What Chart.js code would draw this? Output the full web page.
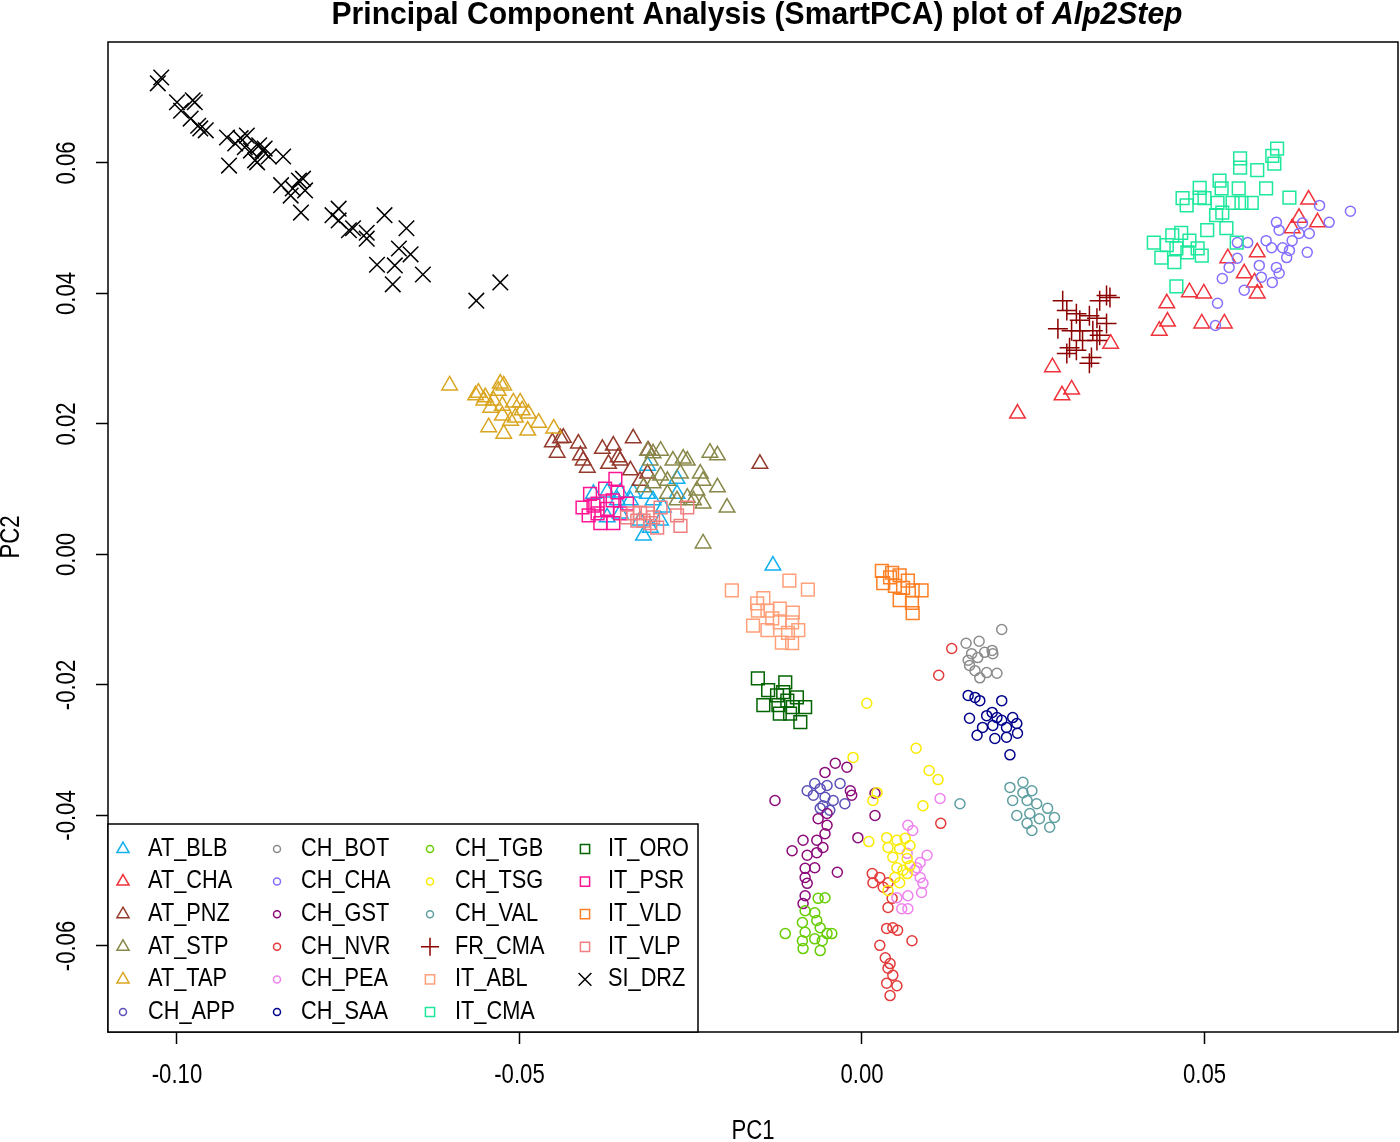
<!DOCTYPE html>
<html><head><meta charset="utf-8">
<script src="https://cdn.jsdelivr.net/npm/chart.js@4.4.0/dist/chart.umd.min.js"></script>
<style>html,body{margin:0;padding:0;background:#fff;overflow:hidden}#wrap{width:1400px;height:1142px;position:relative}</style>
</head><body><div id="wrap"><canvas id="c" width="1400" height="1142"></canvas></div>
<script>
// ---------- DATA (PC1, PC2) ----------
const AT_BLB = [[-0.0313,0.0136],[-0.0270,0.0116],[-0.0392,0.0093],[-0.0372,0.0095],[-0.0353,0.0095],[-0.0334,0.0095],[-0.0313,0.0093],[-0.0357,0.0083],[-0.0338,0.0083],[-0.0305,0.0083],[-0.0290,0.0072],[-0.0270,0.0093],[-0.0372,0.0057],[-0.0353,0.0063],[-0.0324,0.0052],[-0.0294,0.0052],[-0.0319,0.0029],[-0.0309,0.0041],[-0.0130,-0.0017]];
const AT_CHA = [[0.0652,0.0544],[0.0638,0.0516],[0.0665,0.0509],[0.0628,0.0500],[0.0577,0.0463],[0.0534,0.0454],[0.0558,0.0431],[0.0573,0.0417],[0.0577,0.0400],[0.0478,0.0402],[0.0499,0.0400],[0.0445,0.0385],[0.0446,0.0357],[0.0434,0.0343],[0.0496,0.0354],[0.0529,0.0354],[0.0363,0.0323],[0.0278,0.0287],[0.0292,0.0244],[0.0306,0.0253],[0.0227,0.0216]];
const AT_PNZ = [[-0.0452,0.0172],[-0.0440,0.0178],[-0.0436,0.0179],[-0.0445,0.0156],[-0.0414,0.0170],[-0.0411,0.0152],[-0.0407,0.0144],[-0.0401,0.0133],[-0.0379,0.0162],[-0.0363,0.0167],[-0.0356,0.0149],[-0.0353,0.0144],[-0.0370,0.0139],[-0.0334,0.0178],[-0.0338,0.0129],[-0.0313,0.0124],[-0.0324,0.0113],[-0.0149,0.0139],[-0.0312,0.0159]];
const AT_STP = [[-0.0313,0.0159],[-0.0305,0.0155],[-0.0294,0.0159],[-0.0309,0.0144],[-0.0276,0.0144],[-0.0261,0.0147],[-0.0255,0.0144],[-0.0222,0.0156],[-0.0211,0.0152],[-0.0294,0.0121],[-0.0284,0.0113],[-0.0265,0.0124],[-0.0236,0.0124],[-0.0232,0.0113],[-0.0211,0.0103],[-0.0197,0.0072],[-0.0241,0.0098],[-0.0255,0.0087],[-0.0270,0.0083],[-0.0246,0.0083],[-0.0232,0.0078],[-0.0232,0.0017],[-0.0305,0.0109],[-0.0284,0.0093],[-0.0319,0.0103]];
const AT_TAP = [[-0.0602,0.0259],[-0.0564,0.0244],[-0.0560,0.0248],[-0.0550,0.0241],[-0.0528,0.0262],[-0.0523,0.0259],[-0.0531,0.0251],[-0.0538,0.0236],[-0.0542,0.0225],[-0.0525,0.0228],[-0.0509,0.0233],[-0.0499,0.0233],[-0.0525,0.0213],[-0.0506,0.0210],[-0.0496,0.0221],[-0.0487,0.0216],[-0.0545,0.0195],[-0.0523,0.0185],[-0.0488,0.0190],[-0.0472,0.0202],[-0.0450,0.0193],[-0.0513,0.0205],[-0.0552,0.0236]];
const CH_APP = [[-0.0080,-0.0362],[-0.0069,-0.0351],[-0.0061,-0.0359],[-0.0071,-0.0369],[-0.0054,-0.0372],[-0.0051,-0.0354],[-0.0032,-0.0351],[-0.0025,-0.0382],[-0.0057,-0.0385],[-0.0042,-0.0377],[-0.0061,-0.0389],[-0.0047,-0.0392]];
const CH_BOT = [[0.0204,-0.0115],[0.0152,-0.0136],[0.0171,-0.0133],[0.0160,-0.0152],[0.0155,-0.0162],[0.0169,-0.0158],[0.0179,-0.0150],[0.0190,-0.0147],[0.0191,-0.0152],[0.0165,-0.0178],[0.0182,-0.0181],[0.0197,-0.0182],[0.0172,-0.0189],[0.0157,-0.0170]];
const CH_CHA = [[0.0713,0.0526],[0.0668,0.0535],[0.0682,0.0509],[0.0605,0.0509],[0.0609,0.0497],[0.0590,0.0481],[0.0598,0.0470],[0.0614,0.0470],[0.0628,0.0481],[0.0638,0.0492],[0.0653,0.0492],[0.0650,0.0463],[0.0620,0.0455],[0.0605,0.0440],[0.0609,0.0431],[0.0599,0.0417],[0.0580,0.0443],[0.0563,0.0478],[0.0548,0.0478],[0.0548,0.0454],[0.0536,0.0440],[0.0526,0.0423],[0.0558,0.0405],[0.0583,0.0425],[0.0519,0.0385],[0.0516,0.0351],[0.0643,0.0508],[0.0624,0.0466]];
const CH_GST = [[-0.0127,-0.0377],[-0.0039,-0.0320],[-0.0022,-0.0326],[-0.0054,-0.0334],[-0.0017,-0.0362],[-0.0015,-0.0369],[0.0019,-0.0366],[0.0019,-0.0400],[-0.0006,-0.0434],[-0.0036,-0.0487],[-0.0064,-0.0405],[-0.0051,-0.0415],[-0.0054,-0.0428],[-0.0066,-0.0438],[-0.0086,-0.0438],[-0.0057,-0.0449],[-0.0102,-0.0454],[-0.0080,-0.0461],[-0.0066,-0.0457],[-0.0083,-0.0481],[-0.0069,-0.0480],[-0.0083,-0.0495],[-0.0080,-0.0504],[-0.0083,-0.0523],[-0.0086,-0.0535],[-0.0051,-0.0397]];
const CH_NVR = [[0.0115,-0.0412],[0.0015,-0.0489],[0.0026,-0.0495],[0.0016,-0.0503],[0.0031,-0.0510],[0.0038,-0.0503],[0.0044,-0.0527],[0.0038,-0.0541],[0.0036,-0.0573],[0.0045,-0.0572],[0.0052,-0.0576],[0.0073,-0.0592],[0.0026,-0.0599],[0.0034,-0.0618],[0.0041,-0.0627],[0.0038,-0.0634],[0.0045,-0.0645],[0.0051,-0.0661],[0.0041,-0.0676],[0.0036,-0.0657],[0.0131,-0.0144],[0.0112,-0.0185]];
const CH_PEA = [[0.0114,-0.0374],[0.0067,-0.0415],[0.0074,-0.0423],[0.0095,-0.0461],[0.0085,-0.0472],[0.0077,-0.0484],[0.0089,-0.0504],[0.0087,-0.0518],[0.0067,-0.0523],[0.0058,-0.0543],[0.0067,-0.0543],[0.0051,-0.0526],[0.0080,-0.0480],[0.0066,-0.0458],[0.0085,-0.0495]];
const CH_SAA = [[0.0155,-0.0216],[0.0165,-0.0219],[0.0172,-0.0224],[0.0204,-0.0224],[0.0157,-0.0251],[0.0182,-0.0247],[0.0190,-0.0242],[0.0197,-0.0250],[0.0204,-0.0254],[0.0220,-0.0250],[0.0176,-0.0265],[0.0191,-0.0262],[0.0211,-0.0265],[0.0226,-0.0259],[0.0168,-0.0277],[0.0194,-0.0282],[0.0211,-0.0280],[0.0227,-0.0274],[0.0216,-0.0307]];
const CH_TGB = [[-0.0112,-0.0581],[-0.0054,-0.0526],[-0.0064,-0.0527],[-0.0083,-0.0546],[-0.0069,-0.0549],[-0.0087,-0.0564],[-0.0066,-0.0561],[-0.0061,-0.0572],[-0.0083,-0.0579],[-0.0051,-0.0581],[-0.0044,-0.0581],[-0.0087,-0.0592],[-0.0069,-0.0589],[-0.0058,-0.0592],[-0.0086,-0.0604],[-0.0061,-0.0607]];
const CH_TSG = [[0.0007,-0.0228],[0.0079,-0.0297],[0.0098,-0.0331],[0.0111,-0.0345],[0.0089,-0.0385],[-0.0013,-0.0311],[0.0016,-0.0377],[0.0022,-0.0365],[0.0010,-0.0440],[0.0036,-0.0434],[0.0051,-0.0438],[0.0063,-0.0435],[0.0038,-0.0449],[0.0055,-0.0451],[0.0070,-0.0446],[0.0045,-0.0464],[0.0066,-0.0466],[0.0051,-0.0480],[0.0060,-0.0484],[0.0070,-0.0477],[0.0048,-0.0495],[0.0055,-0.0503],[0.0038,-0.0515],[0.0066,-0.0489]];
const CH_VAL = [[0.0143,-0.0382],[0.0216,-0.0357],[0.0235,-0.0349],[0.0248,-0.0362],[0.0220,-0.0377],[0.0241,-0.0377],[0.0255,-0.0382],[0.0271,-0.0389],[0.0226,-0.0400],[0.0245,-0.0397],[0.0259,-0.0405],[0.0281,-0.0403],[0.0241,-0.0412],[0.0274,-0.0418],[0.0248,-0.0423],[0.0235,-0.0365]];
const FR_CMA = [[0.0293,0.0389],[0.0299,0.0374],[0.0313,0.0369],[0.0318,0.0359],[0.0332,0.0366],[0.0343,0.0362],[0.0347,0.0389],[0.0357,0.0397],[0.0362,0.0394],[0.0286,0.0346],[0.0306,0.0343],[0.0318,0.0343],[0.0337,0.0343],[0.0347,0.0336],[0.0322,0.0328],[0.0343,0.0328],[0.0303,0.0317],[0.0313,0.0313],[0.0299,0.0308],[0.0335,0.0302],[0.0332,0.0293],[0.0357,0.0354]];
const IT_ABL = [[-0.0190,-0.0055],[-0.0106,-0.0040],[-0.0079,-0.0054],[-0.0144,-0.0067],[-0.0153,-0.0075],[-0.0152,-0.0086],[-0.0138,-0.0086],[-0.0120,-0.0083],[-0.0101,-0.0089],[-0.0159,-0.0109],[-0.0138,-0.0116],[-0.0120,-0.0104],[-0.0102,-0.0104],[-0.0108,-0.0120],[-0.0093,-0.0116],[-0.0117,-0.0135],[-0.0102,-0.0136],[-0.0131,-0.0098]];
const IT_CMA = [[0.0606,0.0622],[0.0599,0.0611],[0.0602,0.0599],[0.0552,0.0607],[0.0552,0.0593],[0.0577,0.0589],[0.0522,0.0573],[0.0525,0.0561],[0.0493,0.0562],[0.0550,0.0561],[0.0590,0.0561],[0.0468,0.0546],[0.0474,0.0535],[0.0493,0.0547],[0.0500,0.0546],[0.0519,0.0539],[0.0541,0.0539],[0.0554,0.0539],[0.0569,0.0539],[0.0624,0.0547],[0.0517,0.0520],[0.0526,0.0524],[0.0504,0.0497],[0.0532,0.0500],[0.0547,0.0478],[0.0426,0.0478],[0.0445,0.0474],[0.0453,0.0489],[0.0466,0.0493],[0.0478,0.0481],[0.0459,0.0469],[0.0490,0.0469],[0.0496,0.0458],[0.0437,0.0455],[0.0456,0.0448],[0.0475,0.0463],[0.0459,0.0411]];
const IT_ORO = [[-0.0152,-0.0190],[-0.0137,-0.0208],[-0.0112,-0.0196],[-0.0124,-0.0216],[-0.0144,-0.0231],[-0.0122,-0.0231],[-0.0109,-0.0224],[-0.0095,-0.0219],[-0.0101,-0.0234],[-0.0083,-0.0234],[-0.0120,-0.0244],[-0.0105,-0.0244],[-0.0090,-0.0257],[-0.0115,-0.0211]];
const IT_PSR = [[-0.0408,0.0072],[-0.0386,0.0078],[-0.0399,0.0060],[-0.0382,0.0048],[-0.0360,0.0116],[-0.0375,0.0101],[-0.0357,0.0095],[-0.0364,0.0083],[-0.0372,0.0070],[-0.0363,0.0048],[-0.0392,0.0075],[-0.0343,0.0078],[-0.0353,0.0063],[-0.0397,0.0093],[-0.0386,0.0063]];
const IT_VLD = [[0.0029,-0.0025],[0.0044,-0.0028],[0.0055,-0.0032],[0.0067,-0.0040],[0.0031,-0.0044],[0.0048,-0.0048],[0.0060,-0.0051],[0.0074,-0.0055],[0.0087,-0.0055],[0.0055,-0.0070],[0.0073,-0.0074],[0.0074,-0.0090],[0.0041,-0.0035]];
const IT_VLP = [[-0.0334,0.0063],[-0.0324,0.0064],[-0.0313,0.0063],[-0.0328,0.0052],[-0.0319,0.0052],[-0.0309,0.0048],[-0.0305,0.0057],[-0.0294,0.0072],[-0.0270,0.0060],[-0.0265,0.0044],[-0.0255,0.0072],[-0.0343,0.0057],[-0.0299,0.0041]];
const SI_DRZ = [[-0.1028,0.0722],[-0.1023,0.0731],[-0.1000,0.0693],[-0.0994,0.0680],[-0.0977,0.0696],[-0.0974,0.0693],[-0.0980,0.0668],[-0.0969,0.0657],[-0.0966,0.0653],[-0.0958,0.0650],[-0.0927,0.0639],[-0.0924,0.0596],[-0.0915,0.0630],[-0.0907,0.0638],[-0.0898,0.0642],[-0.0901,0.0624],[-0.0892,0.0619],[-0.0886,0.0604],[-0.0883,0.0601],[-0.0880,0.0627],[-0.0875,0.0619],[-0.0872,0.0622],[-0.0866,0.0610],[-0.0845,0.0610],[-0.0848,0.0566],[-0.0834,0.0550],[-0.0831,0.0561],[-0.0822,0.0573],[-0.0816,0.0576],[-0.0813,0.0558],[-0.0819,0.0524],[-0.0773,0.0520],[-0.0764,0.0530],[-0.0764,0.0512],[-0.0749,0.0497],[-0.0743,0.0500],[-0.0723,0.0493],[-0.0723,0.0484],[-0.0697,0.0520],[-0.0708,0.0444],[-0.0685,0.0414],[-0.0682,0.0443],[-0.0676,0.0469],[-0.0665,0.0500],[-0.0659,0.0460],[-0.0641,0.0429],[-0.0563,0.0389],[-0.0528,0.0417]];

const groupNames = ['AT_BLB','AT_CHA','AT_PNZ','AT_STP','AT_TAP','CH_APP','CH_BOT','CH_CHA','CH_GST','CH_NVR','CH_PEA','CH_SAA','CH_TGB','CH_TSG','CH_VAL','FR_CMA','IT_ABL','IT_CMA','IT_ORO','IT_PSR','IT_VLD','IT_VLP','SI_DRZ'];
const groupData = {AT_BLB,AT_CHA,AT_PNZ,AT_STP,AT_TAP,CH_APP,CH_BOT,CH_CHA,CH_GST,CH_NVR,CH_PEA,CH_SAA,CH_TGB,CH_TSG,CH_VAL,FR_CMA,IT_ABL,IT_CMA,IT_ORO,IT_PSR,IT_VLD,IT_VLP,SI_DRZ};
const xTicks = [-0.10,-0.05,0.00,0.05];
const yTicks = [-0.06,-0.04,-0.02,0.00,0.02,0.04,0.06];
const titleMain = 'Principal Component Analysis (SmartPCA) plot of ';
const titleItalic = 'Alp2Step';
const xTitle = 'PC1', yTitle = 'PC2';

// ---------- STYLES ----------
const styleOf = {
  AT_BLB:{shape:'triangle',color:'#12B0EE'}, AT_CHA:{shape:'triangle',color:'#F0323A'},
  AT_PNZ:{shape:'triangle',color:'#943A2C'}, AT_STP:{shape:'triangle',color:'#88884A'},
  AT_TAP:{shape:'triangle',color:'#DAA520'}, CH_APP:{shape:'circle',color:'#5A50B8'},
  CH_BOT:{shape:'circle',color:'#8C8C8C'}, CH_CHA:{shape:'circle',color:'#8470FF'},
  CH_GST:{shape:'circle',color:'#8B0A7A'}, CH_NVR:{shape:'circle',color:'#E33B3B'},
  CH_PEA:{shape:'circle',color:'#EE82EE'}, CH_SAA:{shape:'circle',color:'#00008B'},
  CH_TGB:{shape:'circle',color:'#66CD00'}, CH_TSG:{shape:'circle',color:'#FAEB00'},
  CH_VAL:{shape:'circle',color:'#5F9EA0'}, FR_CMA:{shape:'cross',color:'#8B0000'},
  IT_ABL:{shape:'rect',color:'#FFA07A'}, IT_CMA:{shape:'rect',color:'#1DE89B'},
  IT_ORO:{shape:'rect',color:'#006400'}, IT_PSR:{shape:'rect',color:'#FF1493'},
  IT_VLD:{shape:'rect',color:'#FF7F24'}, IT_VLP:{shape:'rect',color:'#F08080'},
  SI_DRZ:{shape:'crossRot',color:'#000000'}
};
const radiusOf = {triangle:9, circle:5, rect:9, cross:10, crossRot:11};
const legendRadiusOf = {triangle:7, circle:3.5, rect:6.5, cross:9, crossRot:9};
const FONT = '"Liberation Sans", Arial, sans-serif';

function txt(ctx, s, x, y, size, sx, rot, align, weight) {
  ctx.save();
  ctx.translate(x, y);
  if (rot) ctx.rotate(rot);
  ctx.scale(sx, 1);
  ctx.font = (weight || '') + ' ' + size + 'px ' + FONT;
  ctx.textAlign = align || 'center';
  ctx.textBaseline = 'middle';
  ctx.fillStyle = '#000';
  ctx.fillText(s, 0, 0);
  ctx.restore();
}

function drawSym(ctx, style, r, x, y, color) {
  ctx.save();
  ctx.strokeStyle = color; ctx.fillStyle = 'rgba(0,0,0,0)'; ctx.lineWidth = 1.5;
  if (Chart.helpers && Chart.helpers.drawPoint) {
    Chart.helpers.drawPoint(ctx, {pointStyle: style, radius: r, borderWidth: 1.5, rotation: 0}, x, y);
  }
  ctx.restore();
}

const decor = {
  id: 'decor',
  afterDraw(chart) {
    const ctx = chart.ctx, a = chart.chartArea;
    const xs = chart.scales.x, ys = chart.scales.y;
    ctx.save();
    ctx.strokeStyle = '#000'; ctx.lineWidth = 1.5;
    ctx.strokeRect(a.left, a.top, a.right - a.left, a.bottom - a.top);
    ctx.restore();
    xs.ticks.forEach(t => txt(ctx, t.value.toFixed(2), xs.getPixelForValue(t.value), 1076, 27, 0.82, 0, 'center'));
    ys.ticks.forEach(t => txt(ctx, t.value.toFixed(2), 68, ys.getPixelForValue(t.value), 27, 0.82, -Math.PI/2, 'center'));
    txt(ctx, xTitle, (a.left + a.right) / 2, 1132, 27, 0.82, 0, 'center');
    txt(ctx, yTitle, 12, (a.top + a.bottom) / 2, 27, 0.82, -Math.PI/2, 'center');
    // title
    ctx.save();
    ctx.font = 'bold 31px ' + FONT;
    const w1 = ctx.measureText(titleMain).width;
    ctx.font = 'italic bold 31px ' + FONT;
    const w2 = ctx.measureText(titleItalic).width;
    const target = 851, sx = target / (w1 + w2);
    ctx.translate(757 - target / 2, 24);
    ctx.scale(sx, 1);
    ctx.fillStyle = '#000'; ctx.textBaseline = 'alphabetic'; ctx.textAlign = 'left';
    ctx.font = 'bold 31px ' + FONT; ctx.fillText(titleMain, 0, 0);
    ctx.font = 'italic bold 31px ' + FONT; ctx.fillText(titleItalic, w1, 0);
    ctx.restore();
    // legend
    const lx = a.left, ly = 824, lw = 590, lh = a.bottom - 824;
    ctx.save();
    ctx.fillStyle = '#fff'; ctx.fillRect(lx, ly, lw, lh);
    ctx.strokeStyle = '#000'; ctx.lineWidth = 1.5; ctx.strokeRect(lx, ly, lw, lh);
    ctx.restore();
    const colSym = [123, 277, 430, 585], colTxt = [148, 301, 455, 608];
    const rowY0 = 849, rowStep = 32.6, perCol = 6;
    chart.data.datasets.forEach((ds, i) => {
      const c = Math.floor(i / perCol), r = i % perCol;
      const y = rowY0 + r * rowStep;
      drawSym(ctx, ds.pointStyle, legendRadiusOf[ds.pointStyle], colSym[c], y, ds.borderColor);
      txt(ctx, ds.label, colTxt[c], y, 25, 0.87, 0, 'left');
    });
  }
};

const datasets = groupNames.map((g, i) => ({
  label: g,
  data: groupData[g].map(p => ({x: p[0], y: p[1]})),
  pointStyle: styleOf[g].shape,
  borderColor: styleOf[g].color,
  backgroundColor: 'rgba(0,0,0,0)',
  pointRadius: radiusOf[styleOf[g].shape],
  pointBorderWidth: 1.5,
  borderWidth: 1.5,
  showLine: false,
  order: groupNames.length - i
}));

new Chart(document.getElementById('c'), {
  type: 'scatter',
  data: {datasets},
  options: {
    responsive: false, animation: false, devicePixelRatio: 1,
    layout: {autoPadding: false, padding: {top: 42, right: 2, left: 0, bottom: 0}},
    plugins: {legend: {display: false}, tooltip: {enabled: false}, title: {display: false}},
    scales: {
      x: {
        type: 'linear', min: -0.11007, max: 0.07825,
        afterBuildTicks: s => { s.ticks = xTicks.map(v => ({value: v})); },
        afterFit: s => { s.height = 110; },
        ticks: {display: false},
        border: {display: false},
        grid: {drawOnChartArea: false, drawTicks: true, tickLength: 12, tickColor: '#000', tickWidth: 1.5, color: '#000'}
      },
      y: {
        type: 'linear', min: -0.07318, max: 0.07854,
        afterBuildTicks: s => { s.ticks = yTicks.map(v => ({value: v})); },
        afterFit: s => { s.width = 108; },
        ticks: {display: false},
        border: {display: false},
        grid: {drawOnChartArea: false, drawTicks: true, tickLength: 12, tickColor: '#000', tickWidth: 1.5, color: '#000'}
      }
    }
  },
  plugins: [decor]
});
</script></body></html>
